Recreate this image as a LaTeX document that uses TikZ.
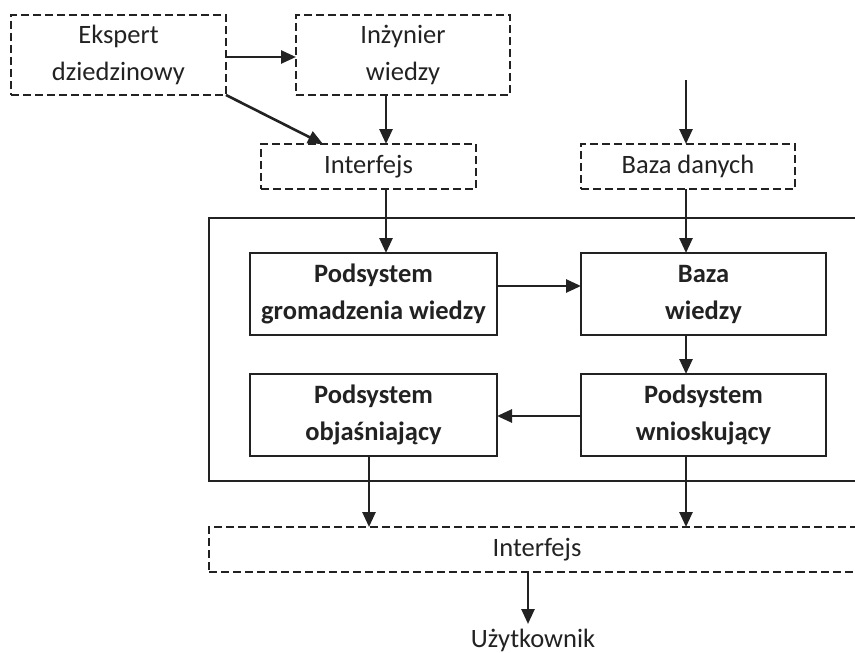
\documentclass[tikz,border=0pt]{standalone}
\usepackage{fontspec}
\setmainfont{Carlito}
\usetikzlibrary{arrows.meta}
\definecolor{ink}{HTML}{222222}
\tikzset{
  dbox/.style={draw=ink, line width=1.6pt, dash pattern=on 8pt off 4pt, inner sep=0pt, outer sep=0pt,
    align=center, text=ink, font=\fontsize{26.5}{37}\selectfont},
  sbox/.style={draw=ink, line width=1.8pt, inner sep=0pt, outer sep=0pt,
    align=center, text=ink, font=\fontsize{26.5}{37}\selectfont\bfseries},
  arr/.style={draw=ink, line width=2.6pt, -{Triangle[length=15pt,width=13pt]}},
  plain/.style={draw=ink, line width=1.8pt}
}
\begin{document}
\begin{tikzpicture}[x=1pt,y=-1pt]
\clip (0,0) rectangle (855,653);
\fill[white] (0,0) rectangle (855,653);
% helper x positions
\coordinate (cx0) at (369,0);
\coordinate (cx1) at (386,0);
\coordinate (cx2) at (686,0);
\coordinate (cx3) at (528,0);
% top row
\node[dbox, minimum width=215pt, minimum height=80pt] (ekspert) at (118.5,55) {Ekspert\\dziedzinowy};
\node[dbox, minimum width=214pt, minimum height=80pt] (inz) at (403,55) {Inżynier\\wiedzy};
\node[dbox, minimum width=215pt, minimum height=45pt] (int1) at (368.5,166.5) {Interfejs};
\node[dbox, minimum width=214pt, minimum height=45pt] (bazad) at (688,166.5) {Baza danych};
% frame
\node[plain, inner sep=0pt, outer sep=0pt, minimum width=661pt, minimum height=263pt] (frame) at (539.5,349.5) {};
% inner boxes
\node[sbox, minimum width=247pt, minimum height=82pt] (grom) at (373.5,294) {Podsystem\\gromadzenia wiedzy};
\node[sbox, minimum width=245pt, minimum height=82pt] (bazaw) at (703.5,294) {Baza\\wiedzy};
\node[sbox, minimum width=247pt, minimum height=82pt] (obj) at (373.5,415) {Podsystem\\objaśniający};
\node[sbox, minimum width=245pt, minimum height=82pt] (wnio) at (703.5,415) {Podsystem\\wnioskujący};
% bottom
\node[dbox, minimum width=656pt, minimum height=45pt] (int2) at (537,549.5) {Interfejs};
\node[anchor=base, inner sep=0pt, text=ink, font=\fontsize{26.5}{30}\selectfont] (user) at (533,647) {Użytkownik};
\coordinate (src) at (686,80);
\coordinate (utop) at (528,624);
% connectors
\draw[arr] ([yshift=-2pt]ekspert.east) -- ([yshift=-2pt]inz.west);
\draw[arr] (ekspert.south east) -- ([xshift=62pt]int1.north west);
\draw[arr] (inz.south -| cx1) -- (int1.north -| cx1);
\draw[arr] (src) -- (bazad.north -| src);
\draw[arr] (int1.south -| cx1) -- (grom.north -| cx1);
\draw[arr] (bazad.south -| cx2) -- (bazaw.north -| cx2);
\draw[arr] ([yshift=8pt]grom.east) -- ([yshift=8pt]bazaw.west);
\draw[arr] (bazaw.south -| cx2) -- (wnio.north -| cx2);
\draw[arr] ([yshift=-1pt]wnio.west) -- ([yshift=-1pt]obj.east);
\draw[arr] (obj.south -| cx0) -- (int2.north -| cx0);
\draw[arr] (wnio.south -| cx2) -- (int2.north -| cx2);
\draw[arr] (int2.south -| cx3) -- (utop);
\end{tikzpicture}
\end{document}
